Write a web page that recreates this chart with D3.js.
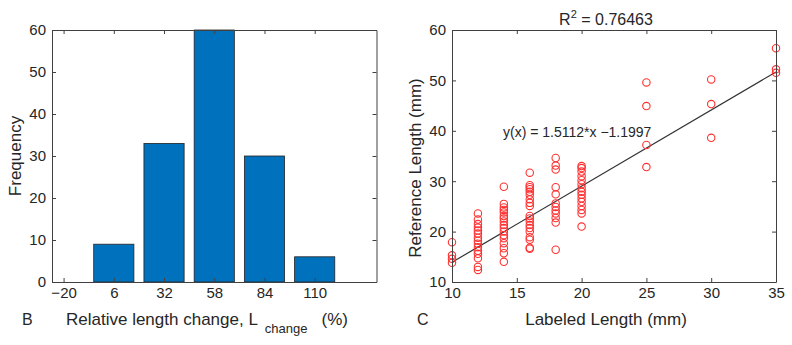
<!DOCTYPE html>
<html lang="en">
<head>
<meta charset="UTF-8">
<title>Length change histogram and reference length fit</title>
<style>
  body { margin: 0; background: #fff; }
  svg text { font-family: "Liberation Sans", Arial, sans-serif; fill: #262626; }
  .axis text { font-size: 15px; fill: #262626; }
  .axis line, .axis path { stroke: #404040; }
</style>
</head>
<body>
<svg id="fig"></svg>
<script src="https://cdn.jsdelivr.net/npm/d3@7/dist/d3.min.js"></script>
<script>

// ---- panel B: histogram
var binCenters = [-20, 6, 32, 58, 84, 110];
var binCounts = [0, 9, 33, 60, 30, 6];
var histXTicks = [-20, 6, 32, 58, 84, 110];
var histYTicks = [0, 10, 20, 30, 40, 50, 60];

// ---- panel C: scatter + linear fit
var labeledLen = [10, 12, 14, 16, 18, 20, 25, 30, 35];
var refLen = [
  [17.9, 15.3, 14.6, 13.8],
  [23.6, 22.4, 21.5, 20.8, 20.2, 19.6, 18.8, 18.2, 17.6, 16.9, 16.2, 15.6, 14.7, 13.0, 12.4],
  [28.9, 25.5, 24.8, 24.3, 23.8, 23.1, 22.6, 22.0, 21.3, 20.7, 20.0, 19.3, 18.7, 17.7, 16.7, 15.7, 14.0],
  [31.7, 29.2, 28.8, 28.4, 27.9, 27.3, 26.4, 25.7, 25.1, 23.1, 22.6, 22.0, 21.3, 20.7, 20.0, 18.9, 18.4, 16.8, 16.6],
  [34.6, 33.1, 32.3, 28.8, 27.4, 25.6, 24.9, 24.2, 23.6, 22.7, 21.8, 16.4],
  [33.0, 32.6, 31.9, 31.0, 30.2, 29.4, 28.6, 27.9, 27.3, 26.6, 25.9, 25.1, 24.3, 23.6, 21.0],
  [49.6, 44.9, 37.2, 32.8],
  [50.2, 45.3, 38.6],
  [56.4, 52.2, 51.5]
];
var fitX = [10, 35];
var fitY = [13.91, 51.68];
var scatXTicks = [10, 15, 20, 25, 30, 35];
var scatYTicks = [10, 20, 30, 40, 50, 60];

var W = 792, H = 345;
var svg = d3.select('#fig').attr('width', W).attr('height', H);
svg.append('rect').attr('width', W).attr('height', H).attr('fill', '#fff');

var top0 = 30, bot0 = 282;

function boxAxes(g, x, y, xt, yt) {
  var r = x.range(), d = y.range();
  g.append('g').attr('class', 'axis').attr('transform', 'translate(0,' + d[0] + ')')
    .call(d3.axisBottom(x).tickValues(xt).tickSizeInner(-4).tickSizeOuter(0).tickPadding(5));
  g.append('g').attr('class', 'axis').attr('transform', 'translate(0,' + d[1] + ')')
    .call(d3.axisTop(x).tickValues(xt).tickSizeInner(-4).tickSizeOuter(0).tickFormat(''));
  g.append('g').attr('class', 'axis').attr('transform', 'translate(' + r[0] + ',0)')
    .call(d3.axisLeft(y).tickValues(yt).tickSizeInner(-4).tickSizeOuter(0).tickPadding(6));
  g.append('g').attr('class', 'axis').attr('transform', 'translate(' + r[1] + ',0)')
    .call(d3.axisRight(y).tickValues(yt).tickSizeInner(-4).tickSizeOuter(0).tickFormat(''));
}

// ===== panel B
var x1 = d3.scaleLinear().domain([-26, 142]).range([52, 376.5]);
var y1 = d3.scaleLinear().domain([0, 60]).range([bot0, top0]);
var g1 = svg.append('g');
var bw = 26 * 0.8;

g1.selectAll('rect.bar')
  .data(binCenters.map(function(c, i) { return { c: c, n: binCounts[i] }; }).filter(function(d) { return d.n > 0; }))
  .enter().append('rect')
  .attr('class', 'bar')
  .attr('x', function(d) { return x1(d.c - bw / 2); })
  .attr('width', function(d) { return x1(d.c + bw / 2) - x1(d.c - bw / 2); })
  .attr('y', function(d) { return y1(d.n); })
  .attr('height', function(d) { return y1(0) - y1(d.n); })
  .attr('fill', '#0072BD')
  .attr('stroke', '#222')
  .attr('stroke-width', 0.8);

boxAxes(g1, x1, y1, histXTicks, histYTicks);

g1.append('text')
  .attr('transform', 'translate(21,156) rotate(-90)')
  .attr('text-anchor', 'middle')
  .style('font-size', '17px')
  .text('Frequency');

var xl = g1.append('text').attr('x', 66).attr('y', 325).style('font-size', '17px');
xl.append('tspan').text('Relative length change, L');
xl.append('tspan').attr('dx', 7).attr('dy', 8).style('font-size', '13px').text('change');
xl.append('tspan').attr('dx', 14).attr('dy', -8).text('(%)');

g1.append('text').attr('x', 22).attr('y', 325).style('font-size', '16px').text('B');

// ===== panel C
var x2 = d3.scaleLinear().domain([10, 35]).range([452, 776]);
var y2 = d3.scaleLinear().domain([10, 60]).range([bot0, top0]);
var g2 = svg.append('g');

var pts = [];
labeledLen.forEach(function(lx, i) {
  refLen[i].forEach(function(v) { pts.push({ x: lx, y: v }); });
});

g2.append('path')
  .datum(fitX.map(function(v, i) { return [v, fitY[i]]; }))
  .attr('fill', 'none')
  .attr('stroke', '#333')
  .attr('stroke-width', 1.2)
  .attr('d', d3.line().x(function(d) { return x2(d[0]); }).y(function(d) { return y2(d[1]); }));

g2.selectAll('circle')
  .data(pts).enter().append('circle')
  .attr('cx', function(d) { return x2(d.x); })
  .attr('cy', function(d) { return y2(d.y); })
  .attr('r', 3.7)
  .attr('fill', 'none')
  .attr('stroke', '#ff3030')
  .attr('stroke-width', 1.1);

boxAxes(g2, x2, y2, scatXTicks, scatYTicks);

var tt = g2.append('text').attr('x', 606).attr('y', 25).attr('text-anchor', 'middle').style('font-size', '16px');
tt.append('tspan').text('R');
tt.append('tspan').attr('dy', -7).style('font-size', '11px').text('2');
tt.append('tspan').attr('dy', 7).text(' = 0.76463');

g2.append('text').attr('x', 503).attr('y', 137).style('font-size', '14px')
  .text('y(x) = 1.5112*x \u22121.1997');

g2.append('text')
  .attr('transform', 'translate(421,168) rotate(-90)')
  .attr('text-anchor', 'middle')
  .style('font-size', '17px')
  .text('Reference Length (mm)');

g2.append('text').attr('x', 606).attr('y', 325).attr('text-anchor', 'middle')
  .style('font-size', '17px').text('Labeled Length (mm)');

g2.append('text').attr('x', 417).attr('y', 325).style('font-size', '16px').text('C');

</script>
</body>
</html>
